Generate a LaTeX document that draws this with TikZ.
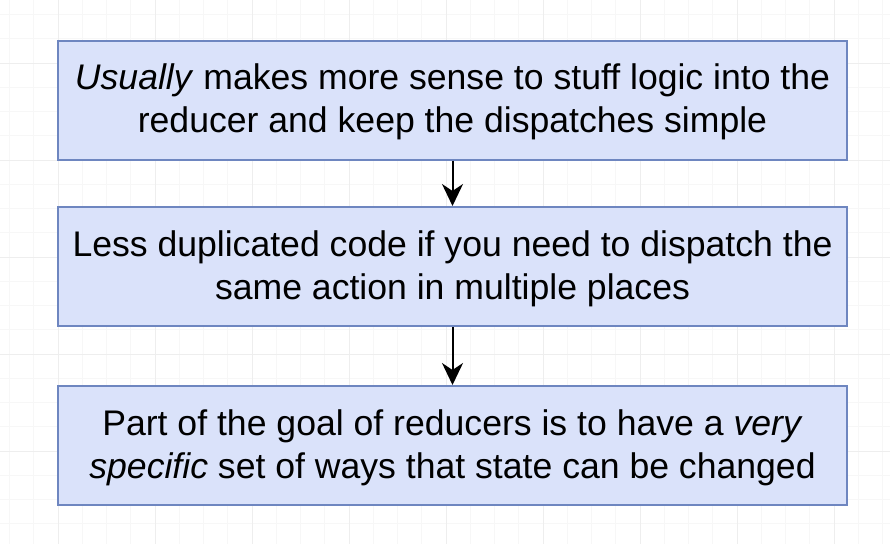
\documentclass[tikz,border=0pt]{standalone}
\usepackage{fontspec}
\setmainfont{Liberation Sans}
\usetikzlibrary{arrows.meta,positioning}
\definecolor{boxfill}{RGB}{218,226,250}
\definecolor{boxline}{RGB}{110,134,192}
\definecolor{gridminor}{RGB}{247,247,247}
\definecolor{gridmajor}{RGB}{238,238,238}

\begin{document}
\begin{tikzpicture}[
    x=1pt, y=-1pt,
    >={Stealth[length=22pt,width=21pt,inset=7pt]},
    every node/.style={
        font=\fontsize{35.6}{43}\selectfont
    },
    notebox/.style={
        draw=boxline,
        fill=boxfill,
        line width=2pt,
        minimum width=789pt,
        minimum height=119pt,
        align=center,
        inner sep=0pt
    },
    flow/.style={
        draw,
        line width=2pt
    }
]
\useasboundingbox (0,0) rectangle (890,544);
\fill[white] (0,0) rectangle (890,544);

% =====================
% GRIGLIA
% =====================
\foreach \gx in {0,...,36} {
    \draw[gridminor, line width=0.8pt] ({9.5+24.25*\gx},0) -- ({9.5+24.25*\gx},544);
}
\foreach \gy in {0,...,22} {
    \draw[gridminor, line width=0.8pt] (0,{14.5+24.25*\gy}) -- (890,{14.5+24.25*\gy});
}
\foreach \gx in {0,...,9} {
    \draw[gridmajor, line width=0.8pt] ({-39+97*\gx},0) -- ({-39+97*\gx},544);
}
\foreach \gy in {0,...,5} {
    \draw[gridmajor, line width=0.8pt] (0,{-34+97*\gy}) -- (890,{-34+97*\gy});
}

% =====================
% BOX
% =====================
\node[notebox] at (452.5,100) (logic) {};
\node[notebox] at (452.5,266.5) (dup) {};
\node[notebox] at (452.5,445.5) (goal) {};

% testi, leggermente piu' in basso del centro
\node[align=center] at ([yshift=-2pt]logic.center) (logictext) {\textit{Usually} makes more sense to stuff logic into the\\reducer and keep the dispatches simple};
\node[align=center] at ([yshift=-2pt]dup.center) (duptext) {Less duplicated code if you need to dispatch the\\same action in multiple places};
\node[align=center] at ([yshift=-2pt]goal.center) (goaltext) {Part of the goal of reducers is to have a \textit{very}\\\textit{specific} set of ways that state can be changed};

% =====================
% FRECCE
% =====================
\path (logic) edge[flow, ->] (dup);
\path (dup) edge[flow, ->] (goal);

\end{tikzpicture}
\end{document}
